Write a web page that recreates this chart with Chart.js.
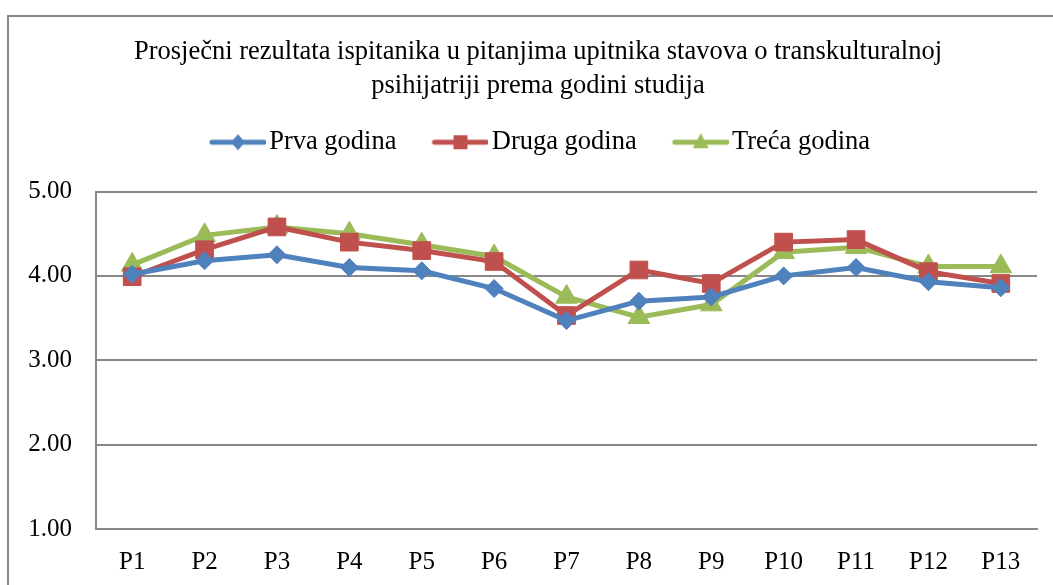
<!DOCTYPE html>
<html>
<head>
<meta charset="utf-8">
<script src="https://cdn.jsdelivr.net/npm/chart.js@4.4.0/dist/chart.umd.min.js"></script>
<style>
  html, body { margin: 0; padding: 0; background: #fff; overflow: hidden; }
  #wrap { width: 1053px; height: 585px; }
</style>
</head>
<body>
<div id="wrap"><canvas id="myChart" width="1053" height="585"></canvas></div>
<script>
const labels = ["P1", "P2", "P3", "P4", "P5", "P6", "P7", "P8", "P9", "P10", "P11", "P12", "P13"];
const prvaGodina = [4.02, 4.18, 4.25, 4.10, 4.06, 3.85, 3.47, 3.70, 3.75, 4.00, 4.10, 3.93, 3.86];
const drugaGodina = [3.99, 4.31, 4.58, 4.40, 4.30, 4.17, 3.53, 4.07, 3.91, 4.40, 4.43, 4.05, 3.91];
const trecaGodina = [4.13, 4.48, 4.58, 4.50, 4.37, 4.23, 3.75, 3.51, 3.66, 4.28, 4.34, 4.11, 4.11];
const seriesNames = ["Prva godina", "Druga godina", "Treća godina"];

const colors = ["#4F81BD", "#C0504D", "#9BBB59"];
const styles = ["rectRot", "rect", "triangle"];
const radii = [9, 12.5, 12.5];
const serif = "'Liberation Serif', 'Times New Roman', serif";
const gray = "#888888";

// line+marker picture for each legend entry; left part left empty on purpose
// so the line sits right next to the label text
function legendIcon(color, style) {
  const c = document.createElement("canvas");
  c.width = 92; c.height = 24;
  const g = c.getContext("2d");
  g.strokeStyle = color; g.fillStyle = color;
  g.lineWidth = 5; g.lineCap = "round";
  g.beginPath(); g.moveTo(38, 12); g.lineTo(90, 12); g.stroke();
  const cx = 64;
  g.beginPath();
  if (style === "rectRot") {
    g.moveTo(cx, 4); g.lineTo(cx + 7, 12); g.lineTo(cx, 20); g.lineTo(cx - 7, 12);
  } else if (style === "rect") {
    g.rect(cx - 7, 5, 14, 14);
  } else {
    g.moveTo(cx, 3); g.lineTo(cx + 8, 18); g.lineTo(cx - 8, 18);
  }
  g.closePath(); g.fill();
  return c;
}

const datasets = [prvaGodina, drugaGodina, trecaGodina].map((vals, i) => ({
  label: seriesNames[i],
  data: vals,
  borderColor: colors[i],
  backgroundColor: colors[i],
  borderWidth: 5,
  pointStyle: styles[i],
  pointRadius: radii[i],
  pointHoverRadius: radii[i],
  pointBorderWidth: 1,
  tension: 0,
}));

const frame = {
  id: "frame",
  beforeDraw(chart) {
    const ctx = chart.ctx;
    ctx.save();
    ctx.fillStyle = "#fff";
    ctx.fillRect(0, 0, chart.width, chart.height);
    ctx.strokeStyle = gray;
    ctx.lineWidth = 2;
    ctx.strokeRect(8, 16, 1200, 800);
    ctx.restore();
  },
};

const legendGap = {
  id: "legendGap",
  beforeInit(chart) {
    const fit = chart.legend.fit;
    chart.legend.fit = function () {
      fit.bind(chart.legend)();
      this.height += 26;
    };
  },
  afterLayout(chart) {
    chart.legend.left -= 11;
    chart.legend.right -= 11;
  },
};

new Chart(document.getElementById("myChart"), {
  type: "line",
  data: { labels: labels, datasets: datasets },
  plugins: [frame, legendGap],
  options: {
    responsive: false,
    animation: false,
    layout: { padding: { left: 23, right: 0, top: 0, bottom: 0 } },
    plugins: {
      tooltip: { enabled: false },
      title: {
        display: true,
        text: [
          "Prosječni rezultata ispitanika u pitanjima upitnika stavova o transkulturalnoj",
          "psihijatriji prema godini studija",
        ],
        color: "#000",
        font: { family: serif, size: 26.5, weight: "normal", lineHeight: "34px" },
        padding: { top: 35, bottom: 16 },
      },
      legend: {
        labels: {
          color: "#000",
          font: { family: serif, size: 26.5 },
          usePointStyle: true,
          pointStyleWidth: 72,
          padding: 10,
          generateLabels(chart) {
            return chart.data.datasets.map((ds, i) => ({
              text: ds.label,
              pointStyle: legendIcon(colors[i], styles[i]),
              fillStyle: colors[i],
              strokeStyle: colors[i],
              lineWidth: 0,
              hidden: false,
              datasetIndex: i,
              fontColor: "#000",
            }));
          },
        },
      },
    },
    scales: {
      x: {
        offset: true,
        grid: { display: false, drawTicks: false },
        border: { display: true, color: gray, width: 2 },
        ticks: { color: "#000", font: { family: serif, size: 25 }, padding: 18 },
        afterFit(scale) { scale.height = 56; },
      },
      y: {
        min: 1,
        max: 5,
        ticks: {
          stepSize: 1,
          color: "#000",
          font: { family: serif, size: 25 },
          padding: 24,
          callback: (v) => v.toFixed(2),
        },
        grid: { color: gray, lineWidth: 2, drawTicks: false },
        border: { display: true, color: gray, width: 2 },
        afterFit(scale) { scale.width = 73; },
      },
      // empty right axis, only keeps a small margin right of the plot
      spacer: {
        position: "right",
        grid: { display: false, drawTicks: false },
        border: { display: false },
        ticks: { display: false },
        afterFit(scale) { scale.width = 16; },
      },
    },
  },
});
</script>
</body>
</html>
